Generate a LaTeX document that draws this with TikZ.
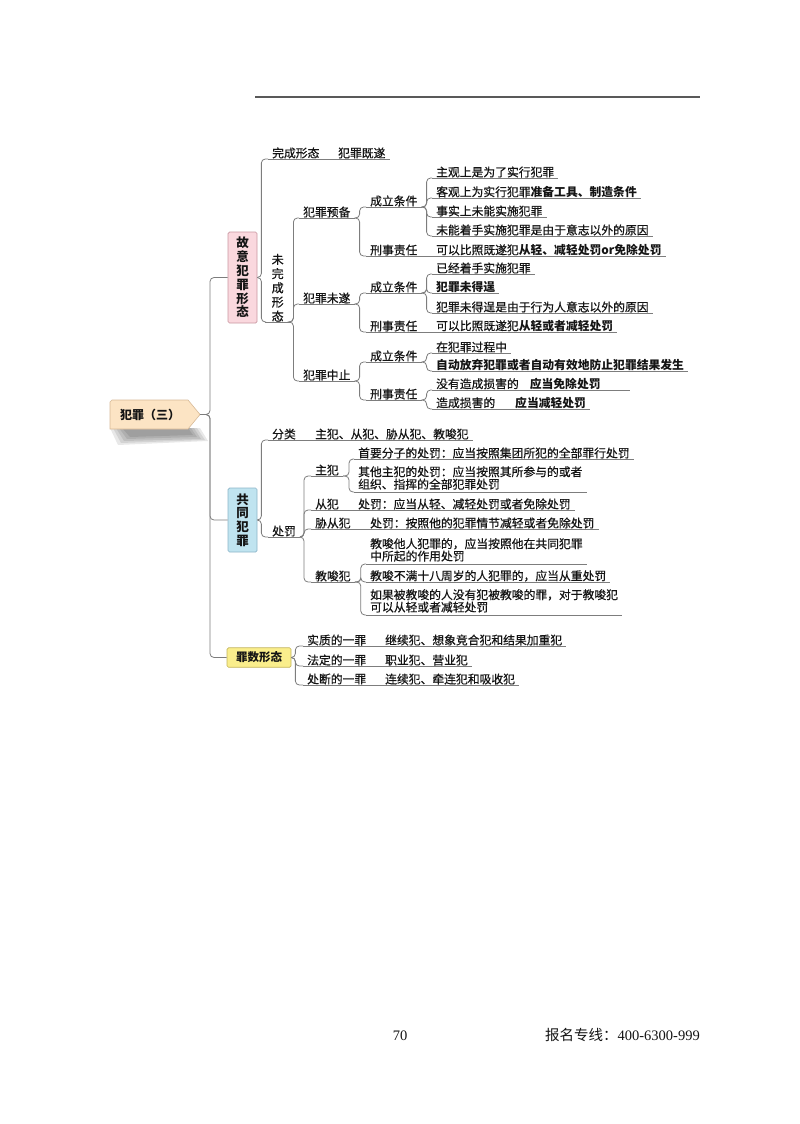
\documentclass[tikz,border=0pt]{standalone}
\usepackage{fontspec}
\setmainfont{Noto Sans CJK SC}[UprightFeatures={FakeBold=0.6}]
\newfontfamily\plaincjk{Noto Sans CJK SC}
\newfontfamily\serifnum{Liberation Serif}
\definecolor{linec}{RGB}{125,125,125}
\definecolor{txt}{RGB}{20,20,20}
\definecolor{rootfill}{RGB}{252,228,196}
\definecolor{rootdraw}{RGB}{215,185,150}
\definecolor{pinkfill}{RGB}{250,216,222}
\definecolor{pinkdraw}{RGB}{200,150,160}
\definecolor{bluefill}{RGB}{192,228,240}
\definecolor{bluedraw}{RGB}{140,180,200}
\definecolor{yelfill}{RGB}{250,238,140}
\definecolor{yeldraw}{RGB}{195,180,90}
\begin{document}
\begin{tikzpicture}[x=1pt,y=-1pt,
  topic/.style={anchor=south west, inner xsep=4pt, inner ysep=0.3pt, text=txt,
    font=\fontsize{11.8}{12.4}\selectfont, align=left},
  topictwo/.style={topic, inner ysep=2.2pt},
  vtopic/.style={anchor=south west, inner xsep=6.5pt, inner ysep=0.3pt, text=txt,
    text width=12pt, align=center, font=\fontsize{12}{14.2}\selectfont},
  box/.style={rounded corners=1.5pt, line width=0.7pt, inner sep=0pt, text=txt,
    align=center, font=\bfseries\fontsize{12.5}{13.8}\selectfont},
  conn/.style={draw=linec, line width=0.8pt, rounded corners=4pt},
  uline/.style={draw=linec, line width=0.8pt},
  shadowpart/.style={fill=black, opacity=0.09, draw=none},
]
\useasboundingbox (0,0) rectangle (800,1124);

% header rule
\draw[line width=1.5pt, draw=black!65] (255,97) -- (700,97);

% root shadow (soft)
\fill[shadowpart] (110,428) -- (200,428) -- (208,441) -- (118,445) -- cycle;
\fill[shadowpart] (113,428) -- (197,428) -- (205,440) -- (121,443) -- cycle;
\fill[shadowpart] (116,428) -- (194,428) -- (201,439) -- (124,441) -- cycle;
\fill[shadowpart] (119,428) -- (191,428) -- (197,437) -- (127,439) -- cycle;
\fill[shadowpart] (122,428) -- (188,428) -- (193,435) -- (130,437) -- cycle;
% root pentagon
\draw[fill=rootfill, draw=rootdraw, line width=0.6pt]
  (112,400) -- (188,400) -- (200,414.5) -- (188,429) -- (110,429) -- (110,402) -- cycle;
\coordinate (roottip) at (200,414.5);
\node[inner sep=0pt, font=\bfseries\fontsize{12}{13}\selectfont, text=txt]
  (root) at (150,414.5) {犯罪（三）};

% main boxes
\node[box, fill=pinkfill, draw=pinkdraw, minimum width=29pt, minimum height=91pt]
  (b1) at (242.5,277.5) {故\\意\\犯\\罪\\形\\态};
\node[box, fill=bluefill, draw=bluedraw, minimum width=29pt, minimum height=64pt]
  (b2) at (242.5,520) {共\\同\\犯\\罪};
\node[box, fill=yelfill, draw=yeldraw, minimum width=64pt, minimum height=19.5pt,
  font=\bfseries\fontsize{11.5}{12}\selectfont]
  (b3) at (259,657.5) {罪数形态};

% ---- 故意犯罪形态
\node[topic] (a1) at (268,159) {完成形态};
\node[topic] (a1b) at (334,159) {犯罪既遂};
\node[vtopic] (a2) at (265,322) {未\\完\\成\\形\\态};

\node[topic] (p1) at (299,218) {犯罪预备};
\node[topic] (p2) at (299,304) {犯罪未遂};
\node[topic] (p3) at (299,381) {犯罪中止};

\node[topic] (c1) at (366,207) {成立条件};
\node[topic] (c2) at (366,256) {刑事责任};
\node[topic] (d1) at (432,178) {主观上是为了实行犯罪};
\node[topic] (d2) at (432,198) {客观上为实行犯罪{\bfseries 准备工具、制造条件}};
\node[topic] (d3) at (432,217) {事实上未能实施犯罪};
\node[topic] (d4) at (432,236) {未能着手实施犯罪是由于意志以外的原因};
\node[topic] (d5) at (432,256) {可以比照既遂犯{\bfseries 从轻、减轻处罚or免除处罚}};

\node[topic] (c3) at (366,293) {成立条件};
\node[topic] (c4) at (366,332) {刑事责任};
\node[topic] (d6) at (432,274) {已经着手实施犯罪};
\node[topic] (d7) at (432,293) {\bfseries 犯罪未得逞};
\node[topic] (d8) at (432,313) {犯罪未得逞是由于行为人意志以外的原因};
\node[topic] (d9) at (432,332) {可以比照既遂犯{\bfseries 从轻或者减轻处罚}};

\node[topic] (c5) at (366,362) {成立条件};
\node[topic] (c6) at (366,400) {刑事责任};
\node[topic] (d10) at (432,353) {在犯罪过程中};
\node[topic] (d11) at (432,371) {\bfseries 自动放弃犯罪或者自动有效地防止犯罪结果发生};
\node[topic] (d12) at (432,390) {没有造成损害的\hspace{11pt}{\bfseries 应当免除处罚}\hspace{25pt}};
\node[topic] (d13) at (432,409) {造成损害的\hspace{20pt}{\bfseries 应当减轻处罚}};

% ---- 共同犯罪
\node[topic] (e1) at (268,440) {分类};
\node[topic] (e1b) at (311,440) {主犯、从犯、胁从犯、教唆犯};
\node[topic] (e2) at (268,537) {处罚};

\node[topic] (f1) at (311,476) {主犯};
\node[topic] (f2) at (311,510) {从犯};
\node[topic] (f3) at (311,529) {胁从犯};
\node[topic] (f4) at (311,582) {教唆犯};

\node[topic] (g1) at (354,459) {首要分子的处罚：应当按照集团所犯的全部罪行处罚};
\node[topictwo] (g2) at (354,492) {其他主犯的处罚：应当按照其所参与的或者\\组织、指挥的全部犯罪处罚};
\node[topic] (g3) at (354,510) {处罚：应当从轻、减轻处罚或者免除处罚};
\node[topic] (g4) at (366,529) {处罚：按照他的犯罪情节减轻或者免除处罚};
\node[topictwo] (g5) at (366,564) {教唆他人犯罪的，应当按照他在共同犯罪\\中所起的作用处罚};
\node[topic] (g6) at (366,582) {教唆不满十八周岁的人犯罪的，应当从重处罚};
\node[topictwo] (g7) at (366,615) {如果被教唆的人没有犯被教唆的罪，对于教唆犯\\可以从轻或者减轻处罚};

% ---- 罪数形态
\node[topic] (h1) at (303,646) {实质的一罪};
\node[topic] (h1b) at (381,646) {继续犯、想象竞合犯和结果加重犯};
\node[topic] (h2) at (303,666) {法定的一罪};
\node[topic] (h2b) at (381,666) {职业犯、营业犯};
\node[topic] (h3) at (303,685) {处断的一罪};
\node[topic] (h3b) at (381,685) {连续犯、牵连犯和吸收犯};

% underlines
\foreach \n in {a1,a1b,a2,p1,p2,p3,c1,c2,c3,c4,c5,c6,d1,d2,d3,d4,d5,d6,d7,d8,d9,d10,d11,d12,d13,
  e1,e1b,e2,f1,f2,f3,f4,g1,g2,g3,g4,g5,g6,g7,h1,h1b,h2,h2b,h3,h3b}
  \draw[uline] (\n.south west) -- (\n.south east);

% trunk
\foreach \c in {b1,b2,b3}
  \draw[conn] (roottip) -- ++(10,0) |- (\c.west);

% connectors
\foreach \c in {a1,a2} \draw[conn] (b1.east) -- ++(4,0) |- (\c.south west);
\draw[conn] (a1.south east) -- (a1b.south west);
\foreach \c in {p1,p2,p3} \draw[conn] (a2.south east) -- ++(3,0) |- (\c.south west);
\foreach \c in {c1,c2} \draw[conn] (p1.south east) -- ++(5,0) |- (\c.south west);
\foreach \c in {c3,c4} \draw[conn] (p2.south east) -- ++(5,0) |- (\c.south west);
\foreach \c in {c5,c6} \draw[conn] (p3.south east) -- ++(5,0) |- (\c.south west);
\foreach \c in {d1,d2,d3,d4} \draw[conn] (c1.south east) -- ++(5,0) |- (\c.south west);
\draw[conn] (c2.south east) -- (d5.south west);
\foreach \c in {d6,d7,d8} \draw[conn] (c3.south east) -- ++(5,0) |- (\c.south west);
\draw[conn] (c4.south east) -- (d9.south west);
\foreach \c in {d10,d11} \draw[conn] (c5.south east) -- ++(5,0) |- (\c.south west);
\foreach \c in {d12,d13} \draw[conn] (c6.south east) -- ++(5,0) |- (\c.south west);

\foreach \c in {e1,e2} \draw[conn] (b2.east) -- ++(4,0) |- (\c.south west);
\draw[conn] (e1.south east) -- (e1b.south west);
\foreach \c in {f1,f2,f3,f4} \draw[conn] (e2.south east) -- ++(4,0) |- (\c.south west);
\foreach \c in {g1,g2} \draw[conn] (f1.south east) -- ++(6,0) |- (\c.south west);
\draw[conn] (f2.south east) -- (g3.south west);
\draw[conn] (f3.south east) -- (g4.south west);
\foreach \c in {g5,g6,g7} \draw[conn] (f4.south east) -- ++(6,0) |- (\c.south west);

\foreach \c in {h1,h2,h3} \draw[conn] (b3.east) -- ++(4,0) |- (\c.south west);
\draw[conn] (h1.south east) -- (h1b.south west);
\draw[conn] (h2.south east) -- (h2b.south west);
\draw[conn] (h3.south east) -- (h3b.south west);

% footer
\node[anchor=base, inner sep=0pt, font=\serifnum\fontsize{14.5}{16}\selectfont, text=txt]
  (pg) at (400,1040) {70};
\node[anchor=base east, inner sep=0pt, font=\plaincjk\fontsize{14.5}{16}\selectfont, text=txt]
  (tel) at (700,1040) {报名专线：{\serifnum 400-6300-999}};
\end{tikzpicture}
\end{document}
